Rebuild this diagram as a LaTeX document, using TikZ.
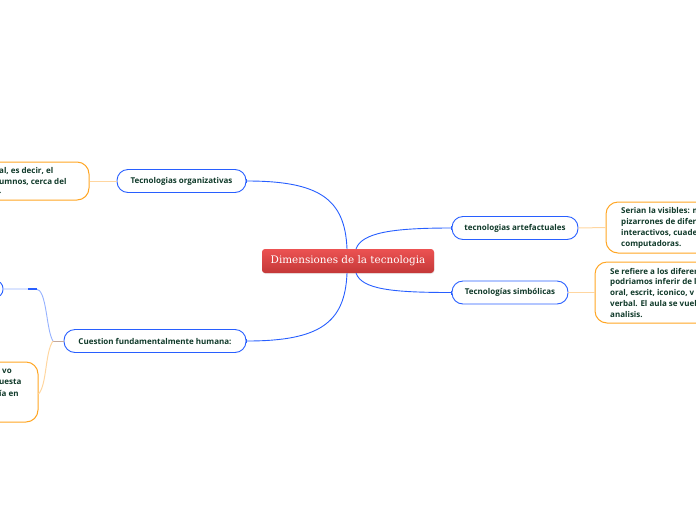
\documentclass[tikz,border=0pt]{standalone}
\usepackage{fontspec}
\setmainfont{Open Sans}
\newfontfamily\serifc{DejaVu Serif}
\usetikzlibrary{arrows.meta,shadows}
\definecolor{mmblue}{RGB}{40,95,255}
\definecolor{mmlblue}{RGB}{150,178,255}
\definecolor{mmtext}{RGB}{16,58,42}
\definecolor{mmorange}{RGB}{255,166,36}
\definecolor{mmlorange}{RGB}{255,214,160}
\definecolor{mmbrown}{RGB}{196,168,156}
\definecolor{mmredtop}{RGB}{236,82,82}
\definecolor{mmredbot}{RGB}{196,56,56}
\tikzset{
  topic/.style={draw=mmblue,line width=0.9pt,fill=white,rounded corners=11pt,minimum height=23pt,inner sep=0pt,text=mmtext,font=\fontsize{8}{9}\selectfont\bfseries},
  obox/.style={draw=mmorange,line width=1pt,fill=white,rounded corners=12pt,inner sep=0pt},
  otext/.style={anchor=west,inner sep=0pt,text=mmtext,font=\fontsize{8}{9}\selectfont\bfseries},
  bconn/.style={draw=mmblue,line width=0.9pt},
  oconn/.style={draw=mmlorange,line width=1pt},
  tick/.style={-{Bar[width=4pt,line width=0.8pt]}},
}
\begin{document}
\begin{tikzpicture}[x=1pt,y=-1pt]
\useasboundingbox (0,0) rectangle (696,520);
\clip (0,0) rectangle (696,520);
% central
\node[rounded corners=3pt,top color=mmredtop,bottom color=mmredbot,draw=none,minimum width=172pt,minimum height=24pt,inner sep=0pt,text=white,font=\serifc\fontsize{10.4}{12}\selectfont,drop shadow={opacity=0.15,shadow xshift=0.5pt,shadow yshift=-1pt}] (c) at (348,261) {Dimensiones de la tecnologia};
% topics
\node[topic,minimum width=129pt] (o) at (181.5,181) {Tecnologias organizativas};
\node[topic,minimum width=126pt] (a) at (515,228) {tecnologias artefactuales};
\node[topic,minimum width=116pt] (s) at (510,292.5) {Tecnologías simbólicas};
\node[topic,minimum width=182pt] (h) at (155,341) {Cuestion fundamentalmente humana:};
\node[topic,minimum width=83pt,minimum height=17pt,rounded corners=8pt] (bn) at (-38.5,289) {};
% orange boxes
\node[obox,minimum width=149pt,minimum height=38pt] (ob1) at (14.5,181) {};
\node[obox,minimum width=174pt,minimum height=51pt] (ob2) at (693,227.5) {};
\node[obox,minimum width=185pt,minimum height=61pt] (ob3) at (687.5,292.5) {};
\node[obox,minimum width=118pt,minimum height=60pt] (ob4) at (-21,392) {};
% texts
\node[otext] (t11) at (-1,170.5) {al, es decir, el};
\node[otext] (t12) at (-1,182) {umnos, cerca del};
\node[otext] (t13) at (-1,193) {.};
\node[otext] (t21) at (621,211) {Serian la visibles: m};
\node[otext] (t22) at (621,222) {pizarrones de difere};
\node[otext] (t23) at (621,233) {interactivos, cuade};
\node[otext] (t24) at (621,244) {computadoras.};
\node[otext] (t31) at (610,271) {Se refiere a los diferen};
\node[otext] (t32) at (610,282) {podriamos inferir de l};
\node[otext] (t33) at (610,293) {oral, escrit, iconico, v};
\node[otext] (t34) at (610,304) {verbal. El aula se vuel};
\node[otext] (t35) at (610,315) {analisis.};
\node[otext] (t41) at (2,371) {vo};
\node[otext] (t42) at (-1,382) {uesta};
\node[otext] (t43) at (-1,393) {ía en};
% central connectors
\draw[bconn,tick] ([xshift=-1pt]c.north) .. controls +(-2,-49) and +(74,0) .. (o.east);
\draw[bconn,tick] ([xshift=-1pt]c.south) .. controls +(-2,49) and +(74,0) .. (h.east);
\draw[bconn,tick] ([xshift=8pt]c.north) .. controls +(6,-16) and +(-60,0) .. (a.west);
\draw[bconn,tick] ([xshift=8pt]c.south) .. controls +(6,16) and +(-60,0) .. (s.west);
% orange connectors
\draw[oconn] (ob1.east) -- (o.west);
\draw[oconn] (ob2.west) -- (a.east);
\draw[oconn] (ob3.west) -- (s.east);
% left branch
\coordinate (j) at (53,341);
\coordinate (k1) at (28,289);
\coordinate (k2) at (37,289);
\draw[draw=mmbrown,line width=1pt] (h.west) -- (j);
\draw[draw=mmlblue,line width=0.9pt] (j) .. controls (46,330) and (47,289) .. (36,289) -- (bn.east);
\draw[draw=mmblue,line width=1.3pt] (k1) -- (k2);
\draw[oconn] (j) .. controls (45,352) and (47,385) .. ([yshift=-2pt]ob4.east);
\end{tikzpicture}
\end{document}
